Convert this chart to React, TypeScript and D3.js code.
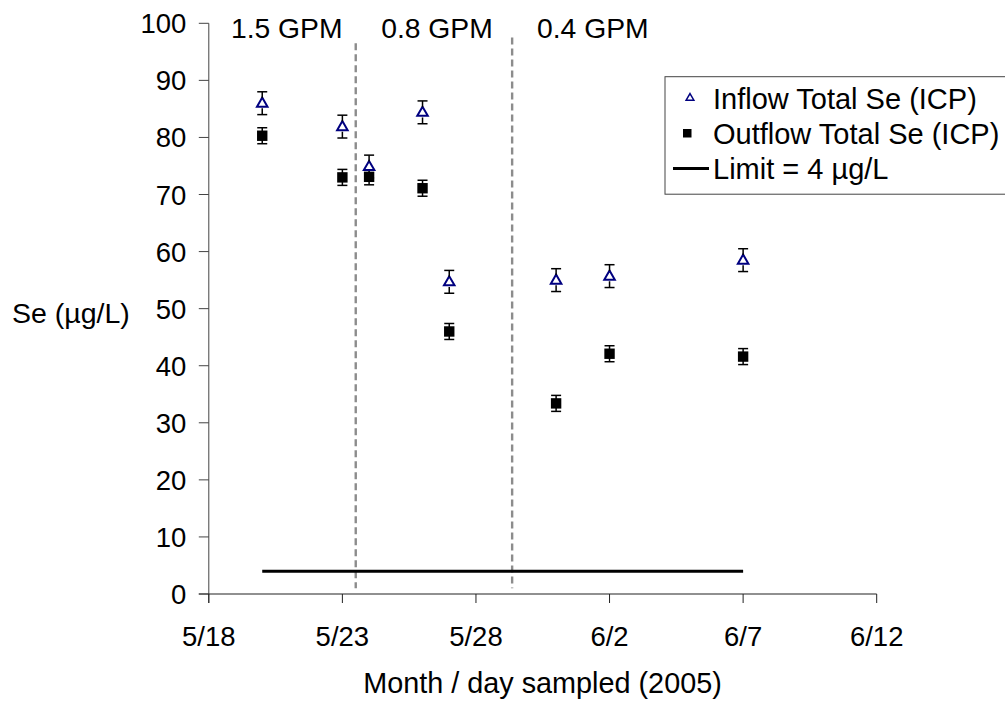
import React from "react";
import * as d3 from "d3";

const sampleDates = ["2005-05-20", "2005-05-23", "2005-05-24", "2005-05-26", "2005-05-27", "2005-05-31", "2005-06-02", "2005-06-07"];
const inflowValues = [86.0, 81.9, 74.9, 84.4, 54.7, 55.0, 55.7, 58.5];
const outflowValues = [80.3, 73.0, 73.1, 71.1, 46.0, 33.4, 42.1, 41.6];
const inflowError = 2.0;
const outflowError = 1.4;
const limitValue = 4;
const limitRange = ["2005-05-20", "2005-06-07"];
const separatorDates = ["2005-05-23T12:00", "2005-05-29T08:30"];
const flowLabels = ["1.5 GPM", "0.8 GPM", "0.4 GPM"];
const flowLabelDates = ["2005-05-20T22:00", "2005-05-26T13:00", "2005-06-01T09:00"];
const xTickDates = ["2005-05-18", "2005-05-23", "2005-05-28", "2005-06-02", "2005-06-07", "2005-06-12"];
const yTicks = [0, 10, 20, 30, 40, 50, 60, 70, 80, 90, 100];
const legendLabels = ["Inflow Total Se (ICP)", "Outflow Total Se (ICP)", "Limit = 4 \u00b5g/L"];

const parse = (s: string) => new Date(s.length > 10 ? s : s + "T00:00");
const fmt = (d: Date) => `${d.getMonth() + 1}/${d.getDate()}`;

const FONT = "'Liberation Sans', Arial, sans-serif";

export default function App() {
  const W = 1005, H = 702;
  const x = d3.scaleTime().domain([parse("2005-05-18"), parse("2005-06-12")]).range([208.8, 876.7]);
  const y = d3.scaleLinear().domain([0, 100]).range([594, 23.3]);
  const tri = d3.symbol().type(d3.symbolTriangle).size(48)();
  const triSmall = d3.symbol().type(d3.symbolTriangle).size(26)();
  const navy = "#000080";
  const x0 = x.range()[0];
  const yb = y(0);

  return (
    <svg width={W} height={H} style={{ position: "absolute", left: 0, top: 0, background: "#fff" }} fontFamily={FONT}>
      {/* axes */}
      <line x1={x0} x2={x0} y1={y(100)} y2={yb + 9} stroke="#444" strokeWidth={1} />
      <line x1={x0 - 10} x2={x.range()[1]} y1={yb} y2={yb} stroke="#222" strokeWidth={1.2} />
      {yTicks.map((t) => (
        <g key={t}>
          <line x1={x0 - 10} x2={x0} y1={y(t)} y2={y(t)} stroke="#444" />
          <text x={x0 - 22.5} y={y(t) + 10} textAnchor="end" fontSize={27.5}>{t}</text>
        </g>
      ))}
      {xTickDates.map((s) => {
        const d = parse(s);
        return (
          <g key={s}>
            <line x1={x(d)} x2={x(d)} y1={yb} y2={yb + 9} stroke="#222" />
            <text x={x(d)} y={646} textAnchor="middle" fontSize={27.5}>{fmt(d)}</text>
          </g>
        );
      })}
      <text x={542.5} y={693} textAnchor="middle" fontSize={28.8}>Month / day sampled (2005)</text>
      <text x={12} y={323} fontSize={28.5}>Se (µg/L)</text>

      {/* separators */}
      {separatorDates.map((s, i) => (
        <line key={s} x1={x(parse(s))} x2={x(parse(s))} y1={i === 0 ? y(96.5) : y(97.5)} y2={y(1)}
          stroke="#8c8c8c" strokeWidth={2.4} strokeDasharray="7,4" />
      ))}
      {flowLabels.map((l, i) => (
        <text key={l} x={x(parse(flowLabelDates[i]))} y={38} textAnchor="middle" fontSize={28.3}>{l}</text>
      ))}

      {/* limit */}
      <line x1={x(parse(limitRange[0]))} x2={x(parse(limitRange[1]))} y1={y(limitValue)} y2={y(limitValue)} stroke="#000" strokeWidth={3} />

      {/* outflow */}
      {sampleDates.map((s, i) => {
        const cx = x(parse(s));
        const v = outflowValues[i];
        return (
          <g key={"o" + s}>
            <rect x={cx - 5.2} y={y(v) - 5.2} width={10.4} height={10.4} fill="#000" />
            <line x1={cx} x2={cx} y1={y(v + outflowError)} y2={y(v - outflowError)} stroke="#000" strokeWidth={1.5} />
            <line x1={cx - 5} x2={cx + 5} y1={y(v + outflowError)} y2={y(v + outflowError)} stroke="#000" strokeWidth={1.5} />
            <line x1={cx - 5} x2={cx + 5} y1={y(v - outflowError)} y2={y(v - outflowError)} stroke="#000" strokeWidth={1.5} />
          </g>
        );
      })}
      {/* inflow */}
      {sampleDates.map((s, i) => {
        const cx = x(parse(s));
        const v = inflowValues[i];
        return (
          <g key={"i" + s}>
            <path d={tri} transform={`translate(${cx},${y(v) + 0.5})`} fill="#fff" stroke={navy} strokeWidth={2} />
            <line x1={cx} x2={cx} y1={y(v + inflowError)} y2={y(v + 0.9)} stroke="#000" strokeWidth={1.5} />
            <line x1={cx} x2={cx} y1={y(v - 0.9)} y2={y(v - inflowError)} stroke="#000" strokeWidth={1.5} />
            <line x1={cx - 5} x2={cx + 5} y1={y(v + inflowError)} y2={y(v + inflowError)} stroke="#000" strokeWidth={1.5} />
            <line x1={cx - 5} x2={cx + 5} y1={y(v - inflowError)} y2={y(v - inflowError)} stroke="#000" strokeWidth={1.5} />
          </g>
        );
      })}

      {/* legend */}
      <rect x={665} y={76.7} width={360} height={117.5} fill="#fff" stroke="#444" strokeWidth={1} />
      <path d={triSmall} transform="translate(690,98)" fill="#fff" stroke={navy} strokeWidth={1.5} />
      <rect x={683} y={129} width={8.5} height={8.5} fill="#000" />
      <line x1={673} x2={709} y1={168.5} y2={168.5} stroke="#000" strokeWidth={3} />
      {legendLabels.map((l, i) => (
        <text key={l} x={713} y={108.5 + i * 35} fontSize={29}>{l}</text>
      ))}
    </svg>
  );
}
